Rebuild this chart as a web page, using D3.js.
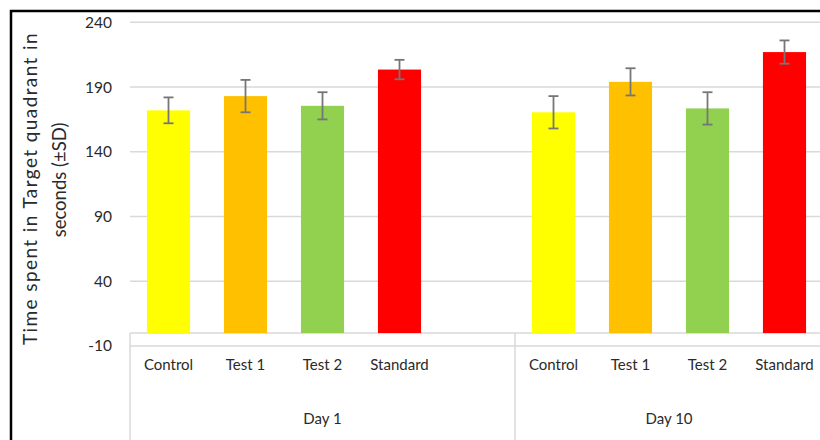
<!DOCTYPE html>
<html>
<head>
<meta charset="utf-8">
<script src="https://cdn.jsdelivr.net/npm/d3@7"></script>
<style>
  html, body { margin: 0; padding: 0; background: #fff; }
  svg { display: block; }
  text { font-family: Lato, "Open Sans", sans-serif; fill: #2a2a2a; }
</style>
</head>
<body>
<svg id="chart" width="820" height="440"></svg>
<script>
// Treatment groups measured on each test day
const days = ["Day 1", "Day 10"];
const treatments = ["Control", "Test 1", "Test 2", "Standard"];
const colors = ["#FFFF00", "#FFC000", "#92D050", "#FF0000"];

// Mean time in target quadrant (s) and standard deviation
const meansDay1 = [172, 183, 175.5, 203.5];
const sdDay1 = [10, 12.5, 10.5, 7.5];
const meansDay10 = [170.5, 194, 173.5, 217];
const sdDay10 = [12.5, 10.5, 12.5, 9];

const yTicks = [-10, 40, 90, 140, 190, 240];
const yTitle = ["Time spent in Target quadrant in", "seconds (\u00B1SD)"];

const means = [meansDay1, meansDay10];
const sds = [sdDay1, sdDay10];

// Category slots: Day 1 carries a trailing empty slot before Day 10 starts
const slots = [];
days.forEach((day, di) => {
  treatments.forEach(t => slots.push(day + "|" + t));
  if (di < days.length - 1) slots.push(day + "|");
});

const rows = [];
days.forEach((day, di) => {
  treatments.forEach((t, ti) => {
    rows.push({ day, treatment: t, key: day + "|" + t,
                mean: means[di][ti], sd: sds[di][ti], color: colors[ti] });
  });
});

const svg = d3.select("#chart");
const W = 820, H = 440;
const plot = { left: 130, right: 823, top: 22.3, bottom: 346 };

const x = d3.scaleBand()
  .domain(slots)
  .range([plot.left, plot.right])
  .paddingInner(0.44)
  .paddingOuter(0.22);

const y = d3.scaleLinear()
  .domain([yTicks[0], yTicks[yTicks.length - 1]])
  .range([plot.bottom, plot.top]);

const gridColor = "#d9d9d9";

// Horizontal gridlines
svg.append("g")
  .selectAll("line")
  .data(yTicks)
  .join("line")
  .attr("x1", plot.left).attr("x2", W)
  .attr("y1", d => y(d)).attr("y2", d => y(d))
  .attr("stroke", gridColor).attr("stroke-width", 1.5);

// Value axis labels (plain hyphen for negatives)
const yAxis = d3.axisLeft(y).tickValues(yTicks).tickSize(0).tickPadding(0)
  .tickFormat(d => String(d));
const gy = svg.append("g").attr("transform", "translate(112,0)").call(yAxis);
gy.select(".domain").remove();
gy.selectAll("text")
  .attr("font-family", "Lato, sans-serif")
  .attr("font-size", 15.5)
  .attr("fill", "#2a2a2a");

// Horizontal axis line at zero
svg.append("line")
  .attr("x1", plot.left).attr("x2", W)
  .attr("y1", y(0)).attr("y2", y(0))
  .attr("stroke", gridColor).attr("stroke-width", 1.5);

// Group separators running down through the category labels
const groupStarts = days.map(day => x(day + "|" + treatments[0]) - x.step() * x.paddingInner() / 2 - (day === days[0] ? x.step() * (x.paddingOuter() - x.paddingInner() / 2) : 0));
svg.append("g")
  .selectAll("line")
  .data(groupStarts)
  .join("line")
  .attr("x1", d => d).attr("x2", d => d)
  .attr("y1", y(0)).attr("y2", H)
  .attr("stroke", gridColor).attr("stroke-width", 1.5);

// Bars
svg.append("g")
  .selectAll("rect")
  .data(rows)
  .join("rect")
  .attr("x", d => x(d.key))
  .attr("width", x.bandwidth())
  .attr("y", d => y(d.mean))
  .attr("height", d => y(0) - y(d.mean))
  .attr("fill", d => d.color);

// Error bars (±SD)
const eb = svg.append("g")
  .attr("stroke", "#767676")
  .attr("stroke-width", 1.8)
  .selectAll("g")
  .data(rows)
  .join("g")
  .attr("transform", d => `translate(${x(d.key) + x.bandwidth() / 2},0)`);
eb.append("line")
  .attr("y1", d => y(d.mean + d.sd)).attr("y2", d => y(d.mean - d.sd));
eb.append("line")
  .attr("x1", -5).attr("x2", 5)
  .attr("y1", d => y(d.mean + d.sd)).attr("y2", d => y(d.mean + d.sd));
eb.append("line")
  .attr("x1", -5).attr("x2", 5)
  .attr("y1", d => y(d.mean - d.sd)).attr("y2", d => y(d.mean - d.sd));

// Treatment labels
svg.append("g")
  .selectAll("text")
  .data(rows)
  .join("text")
  .attr("x", d => x(d.key) + x.bandwidth() / 2)
  .attr("y", 370)
  .attr("text-anchor", "middle")
  .attr("font-size", 15)
  .text(d => d.treatment);

// Day labels centred under each group
const groupEnds = groupStarts.slice(1).concat([plot.right]);
svg.append("g")
  .selectAll("text")
  .data(days)
  .join("text")
  .attr("x", (d, i) => (groupStarts[i] + groupEnds[i]) / 2)
  .attr("y", 424)
  .attr("text-anchor", "middle")
  .attr("font-size", 15)
  .text(d => d);

// Value axis title, two rotated lines
const titlePos = [{ x: 37, y: 188.5, ls: 1.4, fs: 19 }, { x: 66, y: 180, ls: 0, fs: 18.5 }];
svg.append("g")
  .selectAll("text")
  .data(yTitle)
  .join("text")
  .attr("transform", (d, i) => `translate(${titlePos[i].x},${titlePos[i].y}) rotate(-90)`)
  .attr("text-anchor", "middle")
  .attr("font-size", (d, i) => titlePos[i].fs)
  .attr("letter-spacing", (d, i) => titlePos[i].ls)
  .text(d => d);

// Frame along the top and left edges
svg.append("path")
  .attr("d", `M11,${H} L11,11 L${W},11`)
  .attr("fill", "none")
  .attr("stroke", "#000")
  .attr("stroke-width", 2.5);
</script>
</body>
</html>
